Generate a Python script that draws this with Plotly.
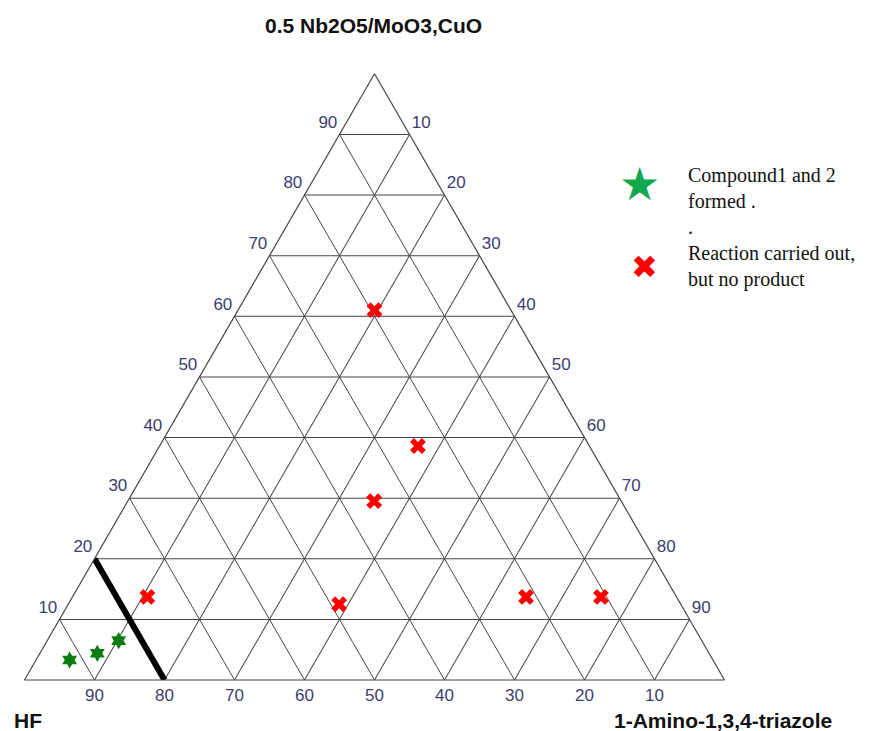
import plotly.graph_objects as go

# Ternary compositions (percent): A = 0.5 Nb2O5/MoO3,CuO, B = HF, C = 1-Amino-1,3,4-triazole
no_product_a = [61.0, 38.6, 29.5, 13.7, 12.5, 13.7, 13.7]
no_product_b = [19.5, 24.5, 35.3, 75.6, 48.8, 21.5, 10.8]
no_product_c = [19.5, 36.9, 35.2, 10.7, 38.7, 64.8, 75.5]

compound_a = [3.3, 4.4, 6.5]
compound_b = [91.9, 87.4, 83.3]
compound_c = [4.8, 8.2, 10.2]

# Boundary of the product-forming region: HF = 80 %
boundary_a = [20, 0]
boundary_b = [80, 80]
boundary_c = [0, 20]

tick_values = [10, 20, 30, 40, 50, 60, 70, 80, 90]

axis_title_top = "0.5 Nb2O5/MoO3,CuO"
axis_title_left = "HF"
axis_title_right = "1-Amino-1,3,4-triazole"
legend_lines = ["Compound1 and 2", "formed .", ".", "Reaction carried out,", "but no product"]

W, H = 869, 731

fig = go.Figure()

fig.add_trace(go.Scatterternary(
    a=boundary_a, b=boundary_b, c=boundary_c,
    mode="lines", line=dict(color="black", width=6),
    showlegend=False, hoverinfo="skip",
))
fig.add_trace(go.Scatterternary(
    a=compound_a, b=compound_b, c=compound_c,
    mode="markers",
    marker=dict(symbol="hexagram", size=13, color="#0d7d12"),
    showlegend=False,
))
fig.add_trace(go.Scatterternary(
    a=no_product_a, b=no_product_b, c=no_product_c,
    mode="markers",
    marker=dict(symbol="x", size=14, color="#ff0000", line=dict(width=0)),
    showlegend=False,
))

tick_font = dict(family="Liberation Sans, Arial, sans-serif", size=17, color="#3d3d6e")
base_axis = dict(
    tickmode="array", tickvals=tick_values,
    ticks="", showgrid=True, gridcolor="#454545", gridwidth=1.2,
    showline=True, linecolor="#454545", linewidth=1.2,
    tickfont=tick_font, title=dict(text=""),
)
# side labels sit slightly above their grid line
side_axis = dict(base_axis, ticktext=[f"{v}<br> " for v in tick_values])
bottom_axis = dict(base_axis, ticktext=[str(v) for v in tick_values])

# triangle placement in pixels
x_left, x_right = 24.5, 724.5
y_base = 680.0
tri_h = (x_right - x_left) * 3 ** 0.5 / 2

fig.update_layout(
    width=W, height=H,
    margin=dict(l=0, r=0, t=0, b=0),
    paper_bgcolor="white",
    ternary=dict(
        sum=100,
        bgcolor="white",
        domain=dict(x=[x_left / W, x_right / W],
                    y=[(H - y_base) / H, (H - y_base + tri_h) / H]),
        aaxis=side_axis, baxis=bottom_axis, caxis=side_axis,
    ),
    showlegend=False,
)


def px(x, y):
    return x / W, 1 - y / H


annots = []
title_font = dict(family="Liberation Sans, Arial", size=21, color="#111111")
tx, ty = px(373, 25)
annots.append(dict(text=f"<b>{axis_title_top}</b>", x=tx, y=ty, xanchor="center", yanchor="middle",
                   font=title_font))
tx, ty = px(12, 720)
annots.append(dict(text=f"<b>{axis_title_left}</b>", x=tx, y=ty, xanchor="left", yanchor="middle",
                   font=title_font))
tx, ty = px(612, 720)
annots.append(dict(text=f"<b>{axis_title_right}</b>", x=tx, y=ty, xanchor="left", yanchor="middle",
                   font=title_font))

# legend keys and text
tx, ty = px(639, 184)
annots.append(dict(text="★", x=tx, y=ty, xanchor="center", yanchor="middle",
                   font=dict(family="DejaVu Sans", size=46, color="#12a84d")))
tx, ty = px(644, 267)
annots.append(dict(text="✖", x=tx, y=ty, xanchor="center", yanchor="middle",
                   font=dict(family="DejaVu Sans", size=32, color="#ff0000")))
tx, ty = px(686, 227)
annots.append(dict(text="<br>".join(legend_lines), x=tx, y=ty, xanchor="left", yanchor="middle",
                   align="left",
                   font=dict(family="Liberation Serif, Times New Roman, serif", size=20, color="#111111")))

for a in annots:
    a.update(xref="paper", yref="paper", showarrow=False)
fig.update_layout(annotations=annots)

fig.write_html("out.html")
